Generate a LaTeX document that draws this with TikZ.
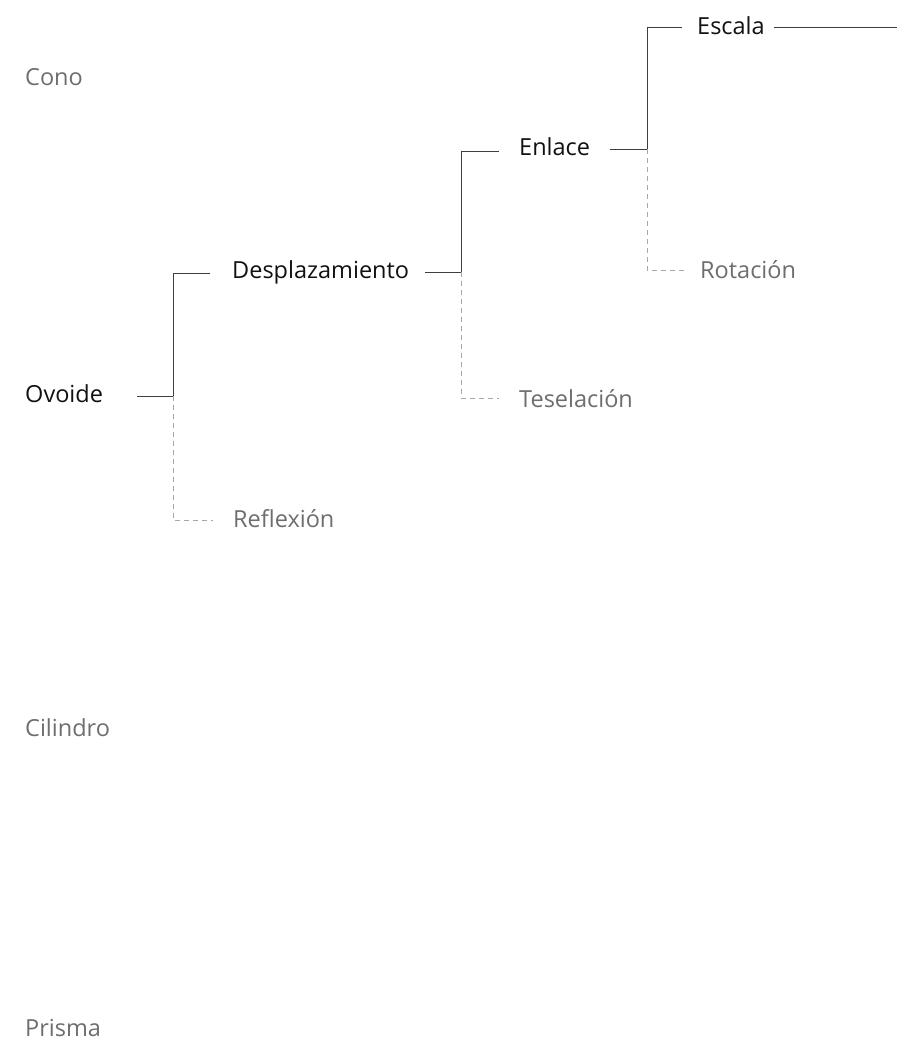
\documentclass[tikz,border=0pt]{standalone}
\usepackage{fontspec}
\setmainfont{Open Sans}
\definecolor{inkdark}{HTML}{111111}
\definecolor{inkgray}{HTML}{6D6E70}
\definecolor{linedark}{HTML}{3F3F3F}
\definecolor{linelight}{HTML}{A8A8A8}

\begin{document}
\begin{tikzpicture}
[x=1pt,y=-1pt,
label/.style={anchor=base west,inner sep=0pt,font=\fontsize{23.5}{28}\selectfont},
kept/.style={label,text=inkdark},
dropped/.style={label,text=inkgray},
tie/.style={draw=linedark,line width=0.9pt},
loose/.style={draw=linelight,line width=0.9pt,dash pattern=on 5pt off 4pt}]
  \useasboundingbox (0,0) rectangle (897,1041);
  \node[dropped] (cono) at (25,85) {Cono};
  \node[kept] (ovo) at (25,402) {Ovoide};
  \node[dropped] (cil) at (25,736) {Cilindro};
  \node[dropped] (pri) at (25,1036) {Prisma};
  \node[kept] (des) at (232,278) {Desplazamiento};
  \node[dropped] (ref) at (233,527) {Reflexión};
  \node[kept] (enl) at (519,155) {Enlace};
  \node[dropped] (tes) at (519,407) {Teselación};
  \node[kept] (esc) at (697,35) {Escala};
  \node[dropped] (rot) at (700,278) {Rotación};
  \coordinate (j1) at (173,396);
  \coordinate (j2) at (461,272);
  \coordinate (j3) at (647,149);
  \coordinate (tail) at (897,27);
  \draw[tie] (j1 -| ovo.east) ++(34,0) -- (j1) |- ([xshift=-22pt]des.west |- 0,273);
  \draw[loose] (j1) |- ([xshift=-20pt]ref.west |- 0,520);
  \draw[tie] (j2 -| des.east) ++(16,0) -- (j2) |- ([xshift=-20pt]enl.west |- 0,151);
  \draw[loose] (j2) |- ([xshift=-20pt]tes.west |- 0,398);
  \draw[tie] (j3 -| enl.east) ++(20,0) -- (j3) |- ([xshift=-15pt]esc.west |- 0,27);
  \draw[loose] (j3) |- ([xshift=-14pt]rot.west |- 0,270);
  \draw[tie] ([xshift=9pt]esc.east |- 0,27) -- (tail);
\end{tikzpicture}
\end{document}
